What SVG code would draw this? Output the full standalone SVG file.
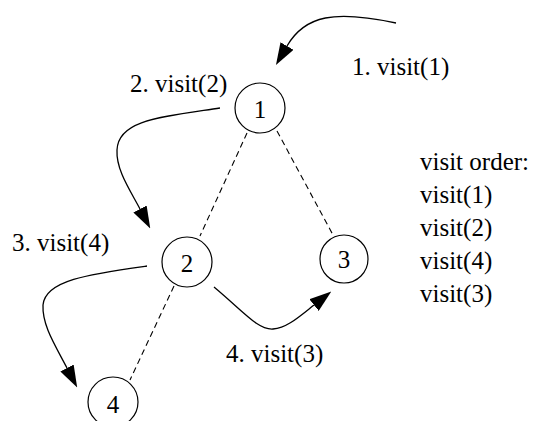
<svg xmlns="http://www.w3.org/2000/svg" width="535" height="421" viewBox="0 0 535 421">
<style>
text{font-family:"Liberation Serif","Times New Roman",serif;font-size:25px;fill:#000}
.node circle{fill:none;stroke:#000;stroke-width:1.2}
.node text{text-anchor:middle}
.edge{fill:none;stroke:#000;stroke-width:1.1;stroke-dasharray:6 4}
.arrow{fill:none;stroke:#000;stroke-width:1.3;marker-end:url(#ah)}
</style>
<defs>
<marker id="ah" markerUnits="userSpaceOnUse" markerWidth="22" markerHeight="15" viewBox="0 0 22 15" refX="0" refY="7.5" orient="auto">
<path d="M0,0 L22,7.5 L0,15 z" fill="#000"/>
</marker>
</defs>
<rect width="535" height="421" fill="#fff"/>
<g id="connectors">
<line class="edge" x1="247" y1="133" x2="200" y2="236"/>
<line class="edge" x1="277" y1="131" x2="333" y2="235"/>
<line class="edge" x1="174" y1="286" x2="130" y2="380"/>
<path class="arrow" d="M396,23 C335,10 305,15 287,46"/>
<path class="arrow" d="M220,108 C160,117 118,120 117,150 C116,170 130,190 140,209"/>
<path class="arrow" d="M147,266 C90,274 45,280 43,305 C42,325 55,345 67,368"/>
<path class="arrow" d="M214,287 C245,313 258,330 273,329 C287,328 300,316 314,305"/>
</g>
<g id="node1" class="node"><circle cx="260" cy="108" r="25"/><text x="260" y="118">1</text></g>
<g id="node2" class="node"><circle cx="187" cy="262" r="25"/><text x="187" y="272">2</text></g>
<g id="node3" class="node"><circle cx="344" cy="259" r="24"/><text x="344" y="268">3</text></g>
<g id="node4" class="node"><circle cx="113" cy="402" r="25"/><text x="113" y="413">4</text></g>
<g id="labels">
<text x="352" y="75">1. visit(1)</text>
<text x="130" y="92">2. visit(2)</text>
<text x="12" y="251">3. visit(4)</text>
<text x="226" y="362">4. visit(3)</text>
<text x="420" y="170">visit order:</text>
<text x="420" y="203">visit(1)</text>
<text x="420" y="236">visit(2)</text>
<text x="420" y="269">visit(4)</text>
<text x="420" y="302">visit(3)</text>
</g>
</svg>
